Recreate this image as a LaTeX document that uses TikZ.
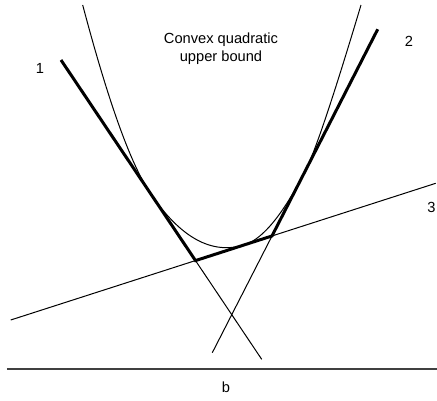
\documentclass[tikz,border=0pt]{standalone}
\usepackage{fontspec}
\setmainfont{Liberation Sans}
\usetikzlibrary{calc}
\begin{document}
\begin{tikzpicture}[x=0.75pt,y=-0.75pt,
  thinline/.style={line width=0.75pt,black},
  thickline/.style={line width=2.25pt,black,line join=miter},
  axisline/.style={line width=1.1pt,black!75},
  lbl/.style={font=\fontsize{11}{13.5}\selectfont,inner sep=0pt}]
\useasboundingbox (0,0) rectangle (437,401);
% lines
\coordinate (P1) at (61,60);
\coordinate (Q1) at (261.7,359.3);
\coordinate (P2) at (377.7,29.3);
\coordinate (Q2) at (212.3,352.7);
\coordinate (A3) at (10.7,320);
\coordinate (B3) at (435.7,183.3);
\coordinate (K13) at (intersection of P1--Q1 and A3--B3);
\coordinate (K32) at (intersection of P2--Q2 and A3--B3);
% curve support points
\coordinate (TL) at (82.7,5);
\coordinate (C1) at ($(P1)!(121,149.2)!(Q1)$);
\coordinate (T1) at ($(P1)!(150,192.4)!(Q1)$);
\coordinate (T3) at ($(A3)!(245,244.7)!(B3)$);
\coordinate (T2) at ($(P2)!(305,170.1)!(Q2)$);
\coordinate (C2) at ($(P2)!(319.4,142.2)!(Q2)$);
\coordinate (TR) at (361,5);
% base line
\coordinate (BL) at (7,369);
\coordinate (BR) at (437,369);
\draw[axisline] (BL) -- (BR);
% thin lines
\draw[thinline] (P1) -- (Q1);
\draw[thinline] (P2) -- (Q2);
\draw[thinline] (A3) -- (B3);
% curve
\draw[thinline] (TL) .. controls ($(TL)!2/3!(C1)$) and ($(T1)!2/3!(C1)$) .. (T1)
  .. controls ($(T1)!2/3!(K13)$) and ($(T3)!2/3!(K13)$) .. (T3)
  .. controls ($(T3)!2/3!(K32)$) and ($(T2)!2/3!(K32)$) .. (T2)
  .. controls ($(T2)!2/3!(C2)$) and ($(TR)!2/3!(C2)$) .. (TR);
% thick envelope
\draw[thickline] (P1) -- (K13) -- (K32) -- (P2);
% labels
\node[lbl,align=center] (title) at (221,48.3) {Convex quadratic\\upper bound};
\node[lbl] (l1) at (40,68) {1};
\node[lbl] (l2) at (409,41) {2};
\node[lbl] (l3) at (431.5,207) {3};
\node[lbl] (lb) at (226,387) {b};
\end{tikzpicture}
\end{document}
